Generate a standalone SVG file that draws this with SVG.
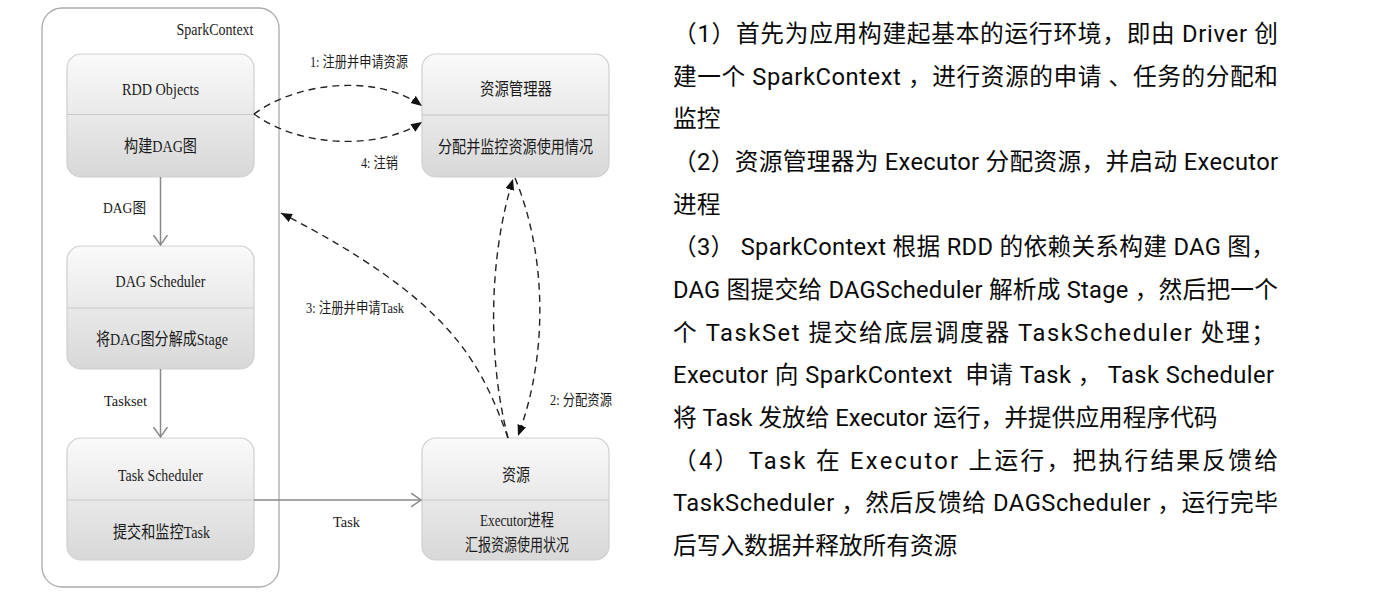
<svg xmlns="http://www.w3.org/2000/svg" width="1381" height="602" viewBox="0 0 1381 602">
<defs>
<linearGradient id="ng" x1="0" y1="0" x2="0" y2="1">
<stop offset="0" stop-color="#fafafa"/>
<stop offset="1" stop-color="#d8d8d8"/>
</linearGradient>
<marker id="fa" markerUnits="userSpaceOnUse" markerWidth="12" markerHeight="10" refX="11" refY="4.5" orient="auto" viewBox="0 0 12 10">
<path d="M0,0 L11,4.5 L0,9 Z" fill="#111"/>
</marker>
<marker id="oa" markerUnits="userSpaceOnUse" markerWidth="12" markerHeight="16" refX="10" refY="7" orient="auto" viewBox="0 0 12 16">
<path d="M0,0 L10,7 L0,14" fill="none" stroke="#888" stroke-width="1.5"/>
</marker>
</defs>
<style>
.box{fill:url(#ng);stroke:#cfcfcf;stroke-width:1.2}
.div{stroke:#c8c8c8;stroke-width:1.2}
.lbl{font-family:"Liberation Serif","Noto Sans CJK SC",serif;font-size:17px;fill:#1a1a1a;text-anchor:middle}
.elab{font-family:"Liberation Serif","Noto Sans CJK SC",serif;font-size:15px;fill:#1a1a1a;text-anchor:middle}
.dash{fill:none;stroke:#222;stroke-width:1.4;stroke-dasharray:7 5;marker-end:url(#fa)}
.sol{fill:none;stroke:#888;stroke-width:1.5;marker-end:url(#oa)}
.para{font-family:Roboto,"Noto Sans CJK SC",sans-serif;font-size:23.7px;fill:#0a0a0a}
</style>
<rect width="1381" height="602" fill="#fff"/>
<g id="sparkcontext">
<rect x="42" y="8" width="237" height="579" rx="20" fill="#fff" stroke="#aaa" stroke-width="1.3"/>
<text class="lbl" x="215" y="35" textLength="77" lengthAdjust="spacingAndGlyphs">SparkContext</text>
</g>
<g id="rdd">
<rect class="box" x="67" y="54" width="187" height="123" rx="14"/>
<line class="div" x1="67" y1="114.5" x2="254" y2="114.5"/>
<text class="lbl" x="160.5" y="95" textLength="77" lengthAdjust="spacingAndGlyphs">RDD Objects</text>
<text class="lbl" x="160.5" y="152" textLength="73" lengthAdjust="spacingAndGlyphs">构建DAG图</text>
</g>
<g id="dagscheduler">
<rect class="box" x="67" y="246" width="187" height="123" rx="14"/>
<line class="div" x1="67" y1="308" x2="254" y2="308"/>
<text class="lbl" x="160.5" y="287" textLength="90" lengthAdjust="spacingAndGlyphs">DAG Scheduler</text>
<text class="lbl" x="162" y="345" textLength="132" lengthAdjust="spacingAndGlyphs">将DAG图分解成Stage</text>
</g>
<g id="taskscheduler">
<rect class="box" x="67" y="438" width="187" height="122" rx="14"/>
<line class="div" x1="67" y1="500" x2="254" y2="500"/>
<text class="lbl" x="160.5" y="481" textLength="85" lengthAdjust="spacingAndGlyphs">Task Scheduler</text>
<text class="lbl" x="161.5" y="538" textLength="97" lengthAdjust="spacingAndGlyphs">提交和监控Task</text>
</g>
<g id="resourcemanager">
<rect class="box" x="422" y="54" width="187" height="123" rx="14"/>
<line class="div" x1="422" y1="115" x2="609" y2="115"/>
<text class="lbl" x="516" y="95" textLength="72" lengthAdjust="spacingAndGlyphs">资源管理器</text>
<text class="lbl" x="515.5" y="153" textLength="155" lengthAdjust="spacingAndGlyphs">分配并监控资源使用情况</text>
</g>
<g id="resource">
<rect class="box" x="422" y="438" width="187" height="122" rx="14"/>
<line class="div" x1="422" y1="500" x2="609" y2="500"/>
<text class="lbl" x="516" y="481" textLength="28" lengthAdjust="spacingAndGlyphs">资源</text>
<text class="lbl" x="517" y="526" textLength="74" lengthAdjust="spacingAndGlyphs">Executor进程</text>
<text class="lbl" x="517" y="551" textLength="104" lengthAdjust="spacingAndGlyphs">汇报资源使用状况</text>
</g>
<g id="connectors">
<line class="sol" x1="160.5" y1="177" x2="160.5" y2="245"/>
<line class="sol" x1="160.5" y1="369" x2="160.5" y2="437"/>
<line class="sol" x1="254" y1="500" x2="421" y2="500"/>
<path class="dash" d="M254,114 C300,80 380,75 422,106"/>
<path class="dash" d="M254,114 C300,148 380,150 422,122"/>
<path class="dash" d="M508,438 C480,360 450,300 281,213"/>
<path class="dash" d="M508,438 C488,360 488,260 513,179"/>
<path class="dash" d="M515,178 C545,250 550,350 518,436"/>
<text class="elab" x="124.5" y="213" textLength="43" lengthAdjust="spacingAndGlyphs">DAG图</text>
<text class="elab" x="125.5" y="406" textLength="43" lengthAdjust="spacingAndGlyphs">Taskset</text>
<text class="elab" x="346.5" y="527" textLength="27" lengthAdjust="spacingAndGlyphs">Task</text>
<text class="elab" x="359" y="67" textLength="98" lengthAdjust="spacingAndGlyphs">1: 注册并申请资源</text>
<text class="elab" x="379.5" y="168" textLength="37" lengthAdjust="spacingAndGlyphs">4: 注销</text>
<text class="elab" x="355" y="313" textLength="98" lengthAdjust="spacingAndGlyphs">3: 注册并申请Task</text>
<text class="elab" x="581" y="405" textLength="62" lengthAdjust="spacingAndGlyphs">2: 分配资源</text>
</g>
<g id="description">
<text class="para" x="673" y="42" textLength="605" lengthAdjust="spacing">（1）首先为应用构建起基本的运行环境，即由 Driver 创</text>
<text class="para" x="673" y="85" textLength="605" lengthAdjust="spacing">建一个 SparkContext ，进行资源的申请 、任务的分配和</text>
<text class="para" x="673" y="127">监控</text>
<text class="para" x="673" y="170" textLength="605" lengthAdjust="spacing">（2）资源管理器为 Executor 分配资源，并启动 Executor</text>
<text class="para" x="673" y="213">进程</text>
<text class="para" x="673" y="255" textLength="602" lengthAdjust="spacing">（3） SparkContext 根据 RDD 的依赖关系构建 DAG 图，</text>
<text class="para" x="673" y="298" textLength="605" lengthAdjust="spacing">DAG 图提交给 DAGScheduler 解析成 Stage ，然后把一个</text>
<text class="para" x="673" y="341" textLength="602" lengthAdjust="spacing">个 TaskSet 提交给底层调度器 TaskScheduler 处理；</text>
<text class="para" x="673" y="383" textLength="601" lengthAdjust="spacing" xml:space="preserve">Executor 向 SparkContext  申请 Task ， Task Scheduler</text>
<text class="para" x="673" y="426">将 Task 发放给 Executor 运行，并提供应用程序代码</text>
<text class="para" x="673" y="469" textLength="605" lengthAdjust="spacing">（4） Task 在 Executor 上运行，把执行结果反馈给</text>
<text class="para" x="673" y="511" textLength="605" lengthAdjust="spacing">TaskScheduler ，然后反馈给 DAGScheduler ，运行完毕</text>
<text class="para" x="673" y="554">后写入数据并释放所有资源</text>
</g>
</svg>
